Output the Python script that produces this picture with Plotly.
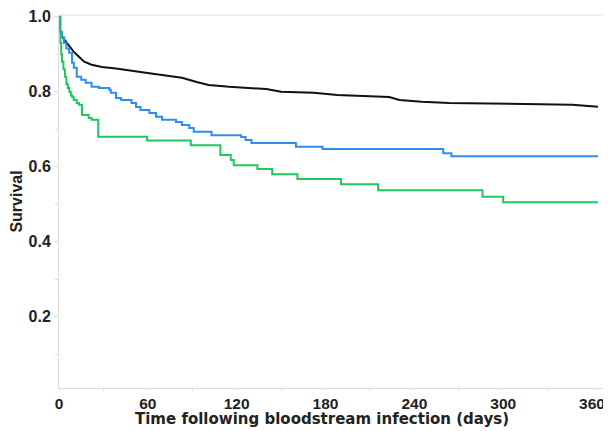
import plotly.graph_objects as go

# Kaplan-Meier style survival curves
black_days = [0, 0.7, 2, 4.7, 6.8, 10, 13.5, 17, 22, 29, 38.5, 49, 61, 72, 83, 93, 101, 115,
              140, 150, 172, 188, 223, 230, 245, 263.5, 324, 346.6, 364]
black_surv = [1.0, 0.965, 0.947, 0.933, 0.92, 0.906, 0.893, 0.88, 0.872, 0.866, 0.862, 0.855,
              0.849, 0.843, 0.837, 0.826, 0.818, 0.813, 0.807, 0.80, 0.797, 0.791, 0.786, 0.778,
              0.773, 0.770, 0.767, 0.765, 0.760]

blue_days = [0, 1, 2, 3.4, 5, 6.8, 8.8, 10, 12, 15, 18, 22, 27, 34, 35, 38.5, 42, 49, 52, 55,
             61, 65.5, 69.6, 79, 83, 88, 91, 103, 123, 126, 130, 160, 178, 259.5, 265, 364]
blue_surv = [1.0, 0.96, 0.945, 0.93, 0.915, 0.904, 0.877, 0.864, 0.84, 0.832, 0.824, 0.813, 0.81,
             0.805, 0.797, 0.783, 0.778, 0.77, 0.759, 0.751, 0.743, 0.733, 0.725, 0.719, 0.711,
             0.703, 0.693, 0.684, 0.679, 0.671, 0.663, 0.653, 0.647, 0.636, 0.628, 0.628]

green_days = [0, 0.5, 1, 1.5, 2, 3, 4, 5, 6, 7, 8, 9, 10, 12, 13.5, 15.5, 20, 22, 26.5, 59.5,
              89, 109, 116, 118, 134, 144, 161, 190.5, 215.5, 286, 300, 364]
green_surv = [1.0, 0.96, 0.93, 0.90, 0.88, 0.86, 0.84, 0.82, 0.81, 0.80, 0.79, 0.785, 0.778,
              0.77, 0.765, 0.738, 0.73, 0.725, 0.68, 0.67, 0.657, 0.631, 0.618, 0.604, 0.594,
              0.58, 0.567, 0.553, 0.537, 0.52, 0.505, 0.505]

x_ticks = [0, 60, 120, 180, 240, 300, 360]
y_ticks = [0.2, 0.4, 0.6, 0.8, 1.0]
y_tick_text = ["0.2", "0.4", "0.6", "0.8", "1.0"]
x_title = "Time following bloodstream infection (days)"
y_title = "Survival"

fig = go.Figure()
fig.add_trace(go.Scatter(x=black_days, y=black_surv, mode="lines",
                         line=dict(color="#111111", width=2, shape="linear")))
fig.add_trace(go.Scatter(x=blue_days, y=blue_surv, mode="lines",
                         line=dict(color="#2e8ef0", width=2, shape="hv")))
fig.add_trace(go.Scatter(x=green_days, y=green_surv, mode="lines",
                         line=dict(color="#22c65e", width=2, shape="hv")))

font_fam = "Liberation Sans, Arial, sans-serif"
fig.update_layout(
    width=603, height=423,
    margin=dict(l=51, r=0, t=7, b=43),
    paper_bgcolor="white", plot_bgcolor="white",
    showlegend=False,
    font=dict(family=font_fam, color="#222222"),
    xaxis=dict(
        range=[0, 372.8], tickvals=x_ticks, ticktext=[str(v) for v in x_ticks],
        showgrid=False, zeroline=False,
        showline=True, linecolor="#dddddd", linewidth=1,
        ticks="outside", ticklen=1, tickcolor="#dddddd",
        minor=dict(tickvals=[30, 90, 150, 210, 270, 330], ticks="outside", ticklen=2, tickcolor="#dddddd"),
        tickfont=dict(size=15.5, family=font_fam, color="#222222", weight="bold"),
    ),
    yaxis=dict(
        range=[0.0099, 1.0045], tickvals=y_ticks, ticktext=y_tick_text,
        showgrid=False, zeroline=False,
        showline=True, linecolor="#dddddd", linewidth=1,
        ticks="outside", ticklen=4, tickcolor="#dddddd",
        minor=dict(tickvals=[0.1, 0.3, 0.5, 0.7, 0.9], ticks="outside", ticklen=3, tickcolor="#dddddd"),
        tickfont=dict(size=16, family=font_fam, color="#222222", weight="bold"),
        title=dict(text="<b>" + y_title + "</b>",
                   font=dict(size=16, family=font_fam, color="#222222"), standoff=6),
    ),
    shapes=[dict(type="line", xref="paper", yref="paper", x0=0, x1=1, y0=1, y1=1,
                 line=dict(color="#dddddd", width=1))],
    annotations=[dict(text="<b>" + x_title + "</b>", xref="paper", yref="paper",
                      x=0.477, y=-0.113, xanchor="center", yanchor="bottom",
                      showarrow=False,
                      font=dict(size=15, family="DejaVu Sans, sans-serif", color="#222222"))],
)

fig.write_html("out.html")
